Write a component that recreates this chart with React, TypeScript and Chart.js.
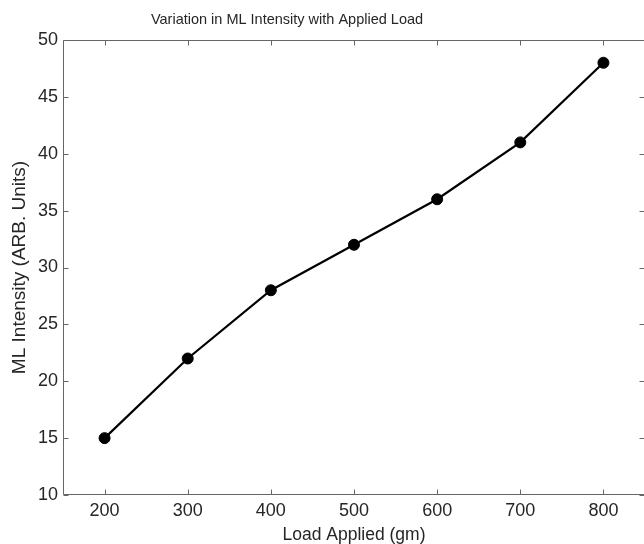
import { useEffect, useRef } from 'react';
import { Chart, registerables } from 'chart.js';

Chart.register(...registerables);

const loads = [200, 300, 400, 500, 600, 700, 800];
const intensity = [15, 22, 28, 32, 36, 41, 48];
const xTicks = [200, 300, 400, 500, 600, 700, 800];
const yTicks = [10, 15, 20, 25, 30, 35, 40, 45, 50];
const chartTitle = 'Variation in ML Intensity with Applied Load';

const FONT = "'Liberation Sans', Arial, Helvetica, sans-serif";
const TEXT = '#262626';
const AXIS = '#666666';

const boxPlugin = {
  id: 'matlabBox',
  beforeDatasetsDraw(chart: any) {
    const { ctx, chartArea: a, scales } = chart;
    const tl = 5;
    ctx.save();
    ctx.strokeStyle = AXIS;
    ctx.lineWidth = 1;
    ctx.beginPath();
    const L = Math.round(a.left) + 0.5;
    const R = Math.round(a.right) - 0.5;
    const T = Math.round(a.top) + 0.5;
    const B = Math.round(a.bottom) - 0.5;
    ctx.rect(L, T, R - L, B - T);
    for (const t of scales.x.ticks) {
      const px = Math.round(scales.x.getPixelForValue(t.value)) + 0.5;
      ctx.moveTo(px, B);
      ctx.lineTo(px, B - tl);
      ctx.moveTo(px, T);
      ctx.lineTo(px, T + tl);
    }
    for (const t of scales.y.ticks) {
      const py = Math.round(scales.y.getPixelForValue(t.value)) + 0.5;
      ctx.moveTo(L, py);
      ctx.lineTo(L + tl, py);
      ctx.moveTo(R, py);
      ctx.lineTo(R - tl, py);
    }
    ctx.stroke();
    ctx.restore();
  },
};

const titlePlugin = {
  id: 'offsetTitle',
  afterDraw(chart: any) {
    const { ctx } = chart;
    ctx.save();
    ctx.fillStyle = TEXT;
    ctx.font = `normal 14.5px ${FONT}`;
    ctx.textAlign = 'center';
    ctx.textBaseline = 'middle';
    ctx.fillText(chartTitle, 287, 20);
    ctx.restore();
  },
};

export default function App() {
  const ref = useRef<HTMLCanvasElement | null>(null);

  useEffect(() => {
    document.body.style.margin = '0';
    const canvas = ref.current;
    if (!canvas) return;
    const chart = new Chart(canvas, {
      type: 'line',
      data: {
        datasets: [
          {
            label: 'ML Intensity',
            data: loads.map((x, i) => ({ x, y: intensity[i] })),
            borderColor: '#000000',
            backgroundColor: '#000000',
            borderWidth: 2.2,
            pointRadius: 5.5,
            pointBorderWidth: 1,
            pointBackgroundColor: '#000000',
            pointBorderColor: '#000000',
            tension: 0,
            fill: false,
          },
        ],
      },
      options: {
        responsive: false,
        animation: false,
        devicePixelRatio: 1,
        layout: { autoPadding: false, padding: { left: 0, right: 1, top: 40, bottom: 0 } },
        plugins: {
          legend: { display: false },
          tooltip: { enabled: false },
          title: { display: false, text: chartTitle },
        },
        scales: {
          x: {
            type: 'linear',
            min: 150,
            max: 850,
            afterBuildTicks: (s: any) => {
              s.ticks = xTicks.map((v) => ({ value: v }));
            },
            afterFit: (s: any) => {
              s.height = 49;
              s.paddingLeft = 0;
              s.paddingRight = 0;
            },
            grid: { display: false, drawTicks: false },
            border: { display: false },
            ticks: {
              color: TEXT,
              padding: 5,
              maxRotation: 0,
              autoSkip: false,
              font: { family: FONT, size: 18 },
            },
            title: {
              display: true,
              text: 'Load Applied (gm)',
              color: TEXT,
              font: { family: FONT, size: 17.5, lineHeight: 1 },
              padding: { top: 0, bottom: 0 },
            },
          },
          y: {
            type: 'linear',
            min: 10,
            max: 50,
            afterBuildTicks: (s: any) => {
              s.ticks = yTicks.map((v) => ({ value: v }));
            },
            afterFit: (s: any) => {
              s.width = 63;
              s.paddingTop = 0;
              s.paddingBottom = 0;
            },
            grid: { display: false, drawTicks: false },
            border: { display: false },
            ticks: {
              color: TEXT,
              padding: 5,
              autoSkip: false,
              font: { family: FONT, size: 18 },
            },
            title: {
              display: true,
              text: 'ML Intensity (ARB. Units)',
              color: TEXT,
              font: { family: FONT, size: 19, lineHeight: 1 },
              padding: { top: 10.5, bottom: 0 },
            },
          },
        },
      },
      plugins: [boxPlugin, titlePlugin],
    });
    return () => chart.destroy();
  }, []);

  return (
    <div style={{ width: 644, height: 544, overflow: 'hidden' }}>
      <canvas ref={ref} width={646} height={544} style={{ display: 'block', width: 646, height: 544 }} />
    </div>
  );
}
